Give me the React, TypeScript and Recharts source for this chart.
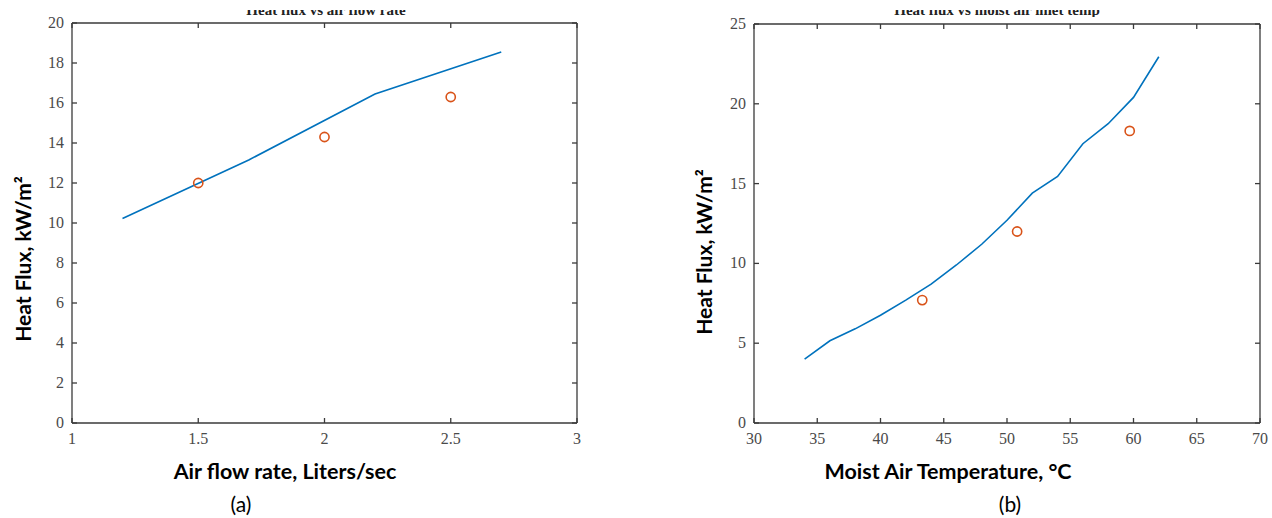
import React from 'react';
import { ComposedChart, Line, Scatter, XAxis, YAxis, Customized } from 'recharts';

// ---- Panel (a): heat flux vs air flow rate ----
const flowRates = [1.2, 1.7, 2.2, 2.7];
const flowModelFlux = [10.22, 13.15, 16.45, 18.55];
const flowMeasuredRates = [1.5, 2.0, 2.5];
const flowMeasuredFlux = [12.0, 14.3, 16.3];
const flowTicksX = [1, 1.5, 2, 2.5, 3];
const flowTicksY = [0, 2, 4, 6, 8, 10, 12, 14, 16, 18, 20];

// ---- Panel (b): heat flux vs moist air temperature ----
const tempValues = [34, 36, 38, 40, 42, 44, 46, 48, 50, 52, 54, 56, 58, 60, 62];
const tempModelFlux = [4.0, 5.15, 5.9, 6.75, 7.7, 8.7, 9.9, 11.2, 12.7, 14.4, 15.45, 17.5, 18.75, 20.4, 22.95];
const tempMeasured = [43.3, 50.8, 59.7];
const tempMeasuredFlux = [7.7, 12.0, 18.3];
const tempTicksX = [30, 35, 40, 45, 50, 55, 60, 65, 70];
const tempTicksY = [0, 5, 10, 15, 20, 25];

const LINE_COLOR = '#0072BD';
const MARK_COLOR = '#D95319';
const AXIS_COLOR = '#3a3a3a';
const SERIF = 'Liberation Serif';
const TICK_COLOR = '#4a4a4a';
const TICK_SIZE = 16;
const LABEL_FONT = 'Lato';
const TICK_LEN = 5;
const X_MARGIN = 17;
const Y_MARGIN = 9;

const toRows = (xs: number[], ys: number[]) => xs.map((x, i) => ({ x, y: ys[i] }));

const Ring = (props: any) => {
  const { cx, cy } = props;
  if (cx == null || cy == null) return <g />;
  return <circle cx={cx} cy={cy} r={4.6} fill="none" stroke={MARK_COLOR} strokeWidth={1.6} />;
};

const BottomTick = (props: any) => {
  const { x, y, payload } = props;
  const axisY = y - X_MARGIN;
  return (
    <g>
      <line x1={x} x2={x} y1={axisY} y2={axisY - TICK_LEN} stroke={AXIS_COLOR} strokeWidth={1.3} />
      <text x={x} y={axisY + 21} textAnchor="middle" fontFamily={SERIF} fontSize={TICK_SIZE} fill={TICK_COLOR}>
        {String(payload.value)}
      </text>
    </g>
  );
};

const TopTick = (props: any) => {
  const { x, y } = props;
  return <line x1={x} x2={x} y1={y} y2={y + TICK_LEN} stroke={AXIS_COLOR} strokeWidth={1.3} />;
};

const LeftTick = (props: any) => {
  const { x, y, payload } = props;
  const axisX = x + Y_MARGIN;
  return (
    <g>
      <line x1={axisX} x2={axisX + TICK_LEN} y1={y} y2={y} stroke={AXIS_COLOR} strokeWidth={1.3} />
      <text x={axisX - 8} y={y + 5} textAnchor="end" fontFamily={SERIF} fontSize={TICK_SIZE} fill={TICK_COLOR}>
        {String(payload.value)}
      </text>
    </g>
  );
};

const RightTick = (props: any) => {
  const { x, y } = props;
  return <line x1={x} x2={x - TICK_LEN} y1={y} y2={y} stroke={AXIS_COLOR} strokeWidth={1.3} />;
};

type PanelProps = {
  id: string;
  width: number;
  height: number;
  margin: { top: number; right: number; bottom: number; left: number };
  yAxisWidth: number;
  lineRows: { x: number; y: number }[];
  pointRows: { x: number; y: number }[];
  xTicks: number[];
  yTicks: number[];
  title: string;
  titleX: number;
  xLabel: string;
  xLabelX: number;
  yLabelX: number;
  yLabelY: number;
  caption: string;
  captionX: number;
};

const Panel = (p: PanelProps) => {
  const xDomain: [number, number] = [p.xTicks[0], p.xTicks[p.xTicks.length - 1]];
  const yDomain: [number, number] = [p.yTicks[0], p.yTicks[p.yTicks.length - 1]];
  const Texts = () => (
    <g>
      <defs>
        <clipPath id={`clip-title-${p.id}`}>
          <rect x={0} y={10} width={p.width} height={7} />
        </clipPath>
      </defs>
      <text
        x={p.titleX}
        y={15}
        textAnchor="middle"
        clipPath={`url(#clip-title-${p.id})`}
        fontFamily={SERIF}
        fontWeight={700}
        fontSize={15}
        fill="#222"
      >
        {p.title}
      </text>
      <text x={p.xLabelX} y={479} textAnchor="middle" fontFamily={LABEL_FONT} fontWeight={700} fontSize={21.5} fill="#000">
        {p.xLabel}
      </text>
      <text x={p.captionX} y={512} textAnchor="middle" fontFamily={LABEL_FONT} fontWeight={400} fontSize={21} fill="#000">
        {p.caption}
      </text>
      <text
        x={p.yLabelX}
        y={p.yLabelY}
        textAnchor="middle"
        dominantBaseline="central"
        transform={`rotate(-90 ${p.yLabelX} ${p.yLabelY})`}
        fontFamily={LABEL_FONT}
        fontWeight={700}
        fontSize={21}
        fill="#000"
      >
        Heat Flux, kW/m²
      </text>
    </g>
  );

  return (
    <ComposedChart width={p.width} height={p.height} margin={p.margin}>
      <XAxis
        xAxisId="b"
        dataKey="x"
        type="number"
        domain={xDomain}
        ticks={p.xTicks}
        allowDataOverflow
        interval={0}
        height={30}
        tickSize={0}
        tickMargin={X_MARGIN}
        tickLine={false}
        stroke={AXIS_COLOR}
        strokeWidth={1.3}
        tick={BottomTick}
      />
      <XAxis
        xAxisId="t"
        orientation="top"
        dataKey="x"
        type="number"
        domain={xDomain}
        ticks={p.xTicks}
        allowDataOverflow
        interval={0}
        height={1}
        tickSize={0}
        tickMargin={0}
        tickLine={false}
        tick={TopTick}
        stroke={AXIS_COLOR}
        strokeWidth={1.3}
      />
      <YAxis
        yAxisId="l"
        type="number"
        domain={yDomain}
        ticks={p.yTicks}
        allowDataOverflow
        interval={0}
        width={p.yAxisWidth}
        tickSize={0}
        tickMargin={Y_MARGIN}
        tickLine={false}
        stroke={AXIS_COLOR}
        strokeWidth={1.3}
        tick={LeftTick}
      />
      <YAxis
        yAxisId="r"
        orientation="right"
        type="number"
        domain={yDomain}
        ticks={p.yTicks}
        allowDataOverflow
        interval={0}
        width={1}
        tickSize={0}
        tickMargin={0}
        tickLine={false}
        tick={RightTick}
        stroke={AXIS_COLOR}
        strokeWidth={1.3}
      />
      <Line
        xAxisId="b"
        yAxisId="l"
        data={p.lineRows}
        dataKey="y"
        type="linear"
        stroke={LINE_COLOR}
        strokeWidth={1.6}
        dot={false}
        activeDot={false}
        isAnimationActive={false}
      />
      <Scatter
        xAxisId="b"
        yAxisId="l"
        data={p.pointRows}
        dataKey="y"
        shape={Ring}
        isAnimationActive={false}
      />
      <Customized component={Texts} />
    </ComposedChart>
  );
};

export default function App() {
  return (
    <div style={{ position: 'absolute', left: 0, top: 0, width: 1272, height: 518, background: '#fff' }}>
      <div style={{ position: 'absolute', left: 0, top: 0 }}>
        <Panel
          id="a"
          width={640}
          height={518}
          margin={{ top: 22, right: 62, bottom: 65, left: 0 }}
          yAxisWidth={72}
          lineRows={toRows(flowRates, flowModelFlux)}
          pointRows={toRows(flowMeasuredRates, flowMeasuredFlux)}
          xTicks={flowTicksX}
          yTicks={flowTicksY}
          title="Heat flux vs air flow rate"
          titleX={326}
          xLabel="Air flow rate, Liters/sec"
          xLabelX={285}
          yLabelX={22}
          yLabelY={259}
          caption="(a)"
          captionX={241}
        />
      </div>
      <div style={{ position: 'absolute', left: 640, top: 0 }}>
        <Panel
          id="b"
          width={632}
          height={518}
          margin={{ top: 23, right: 11, bottom: 65, left: 0 }}
          yAxisWidth={114}
          lineRows={toRows(tempValues, tempModelFlux)}
          pointRows={toRows(tempMeasured, tempMeasuredFlux)}
          xTicks={tempTicksX}
          yTicks={tempTicksY}
          title="Heat flux vs moist air inlet temp"
          titleX={357}
          xLabel="Moist Air Temperature, °C"
          xLabelX={308}
          yLabelX={63}
          yLabelY={252}
          caption="(b)"
          captionX={370}
        />
      </div>
    </div>
  );
}
